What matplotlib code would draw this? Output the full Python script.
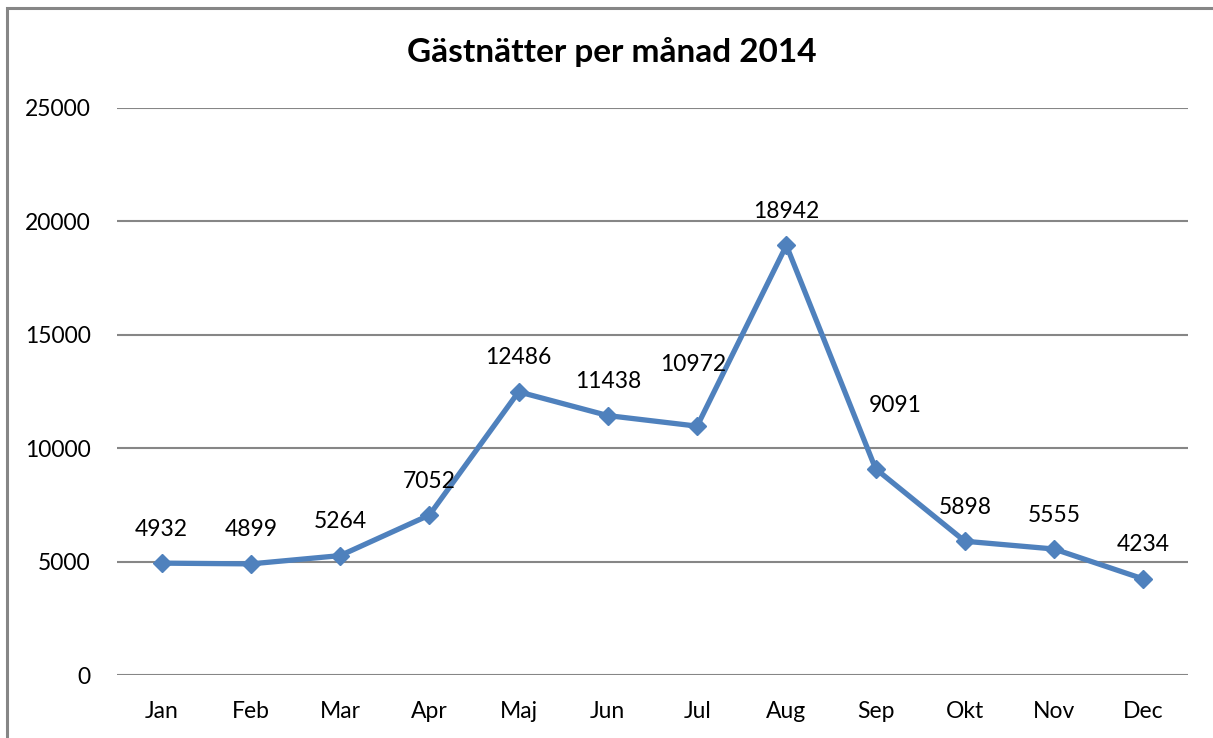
import matplotlib.pyplot as plt
from matplotlib.patches import Rectangle

months = ['Jan', 'Feb', 'Mar', 'Apr', 'Maj', 'Jun', 'Jul', 'Aug', 'Sep', 'Okt', 'Nov', 'Dec']
nights = [4932, 4899, 5264, 7052, 12486, 11438, 10972, 18942, 9091, 5898, 5555, 4234]

# label offsets in pixels (dx, dy) from each point
label_offsets = [(0, 34), (0, 34), (0, 34), (0, 34), (0, 34), (0, 34),
                 (-4, 62), (0, 34), (20, 63), (0, 34), (0, 34), (0, 34)]

plt.rcParams['font.family'] = ['Lato', 'DejaVu Sans']

fig = plt.figure(figsize=(12.13, 7.38), dpi=100)
ax = fig.add_axes([117 / 1213, 1 - 675 / 738, (1188 - 117) / 1213, (675 - 108) / 738])

x = range(len(months))
ax.plot(x, nights, color='#4F81BD', linewidth=3.8, marker='D', markersize=9,
        solid_joinstyle='miter')

for i, v in enumerate(nights):
    dx, dy = label_offsets[i]
    ax.annotate(str(v), (i, v), xytext=(dx, dy), textcoords='offset pixels',
                ha='center', va='center', fontsize=16.5, color='black')

ax.set_xlim(-0.5, len(months) - 0.5)
ax.set_ylim(0, 25000)
ax.set_yticks(range(0, 25001, 5000))
ax.set_xticks(list(x))
ax.set_xticklabels(months)
ax.tick_params(axis='both', length=0, labelsize=16.5)
ax.tick_params(axis='x', pad=19)
ax.tick_params(axis='y', pad=19)
ax.grid(axis='y', color='#868686', linewidth=1.5)
ax.set_axisbelow(True)
for s in ax.spines.values():
    s.set_visible(False)

fig.text(612 / 1213, 1 - 52 / 738, 'Gästnätter per månad 2014', ha='center', va='center',
         fontsize=24, fontweight='bold')

fig.add_artist(Rectangle((7 / 1213, -0.1), 1.2, 1.1 - 8 / 738, transform=fig.transFigure,
                         fill=False, edgecolor='#868686', linewidth=2.2))

fig.savefig('out.png', dpi=100)
